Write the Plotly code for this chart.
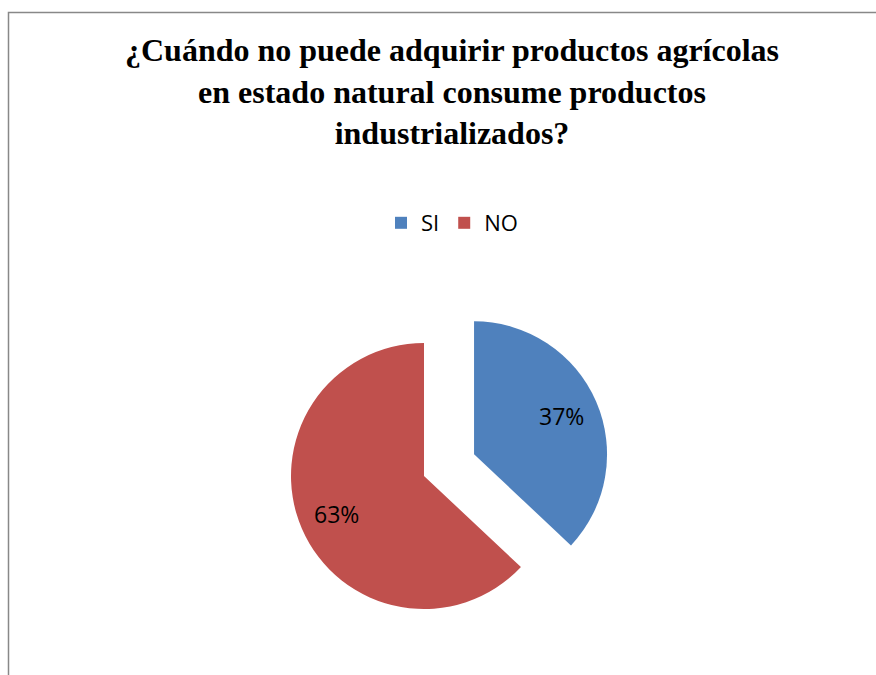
import math
import plotly.graph_objects as go

labels = ["SI", "NO"]
values = [37, 63]
colors = ["#4F81BD", "#C0504D"]
pulls = [0.41, 0]
title_text = "¿Cuándo no puede adquirir productos agrícolas<br>en estado natural consume productos<br>industrializados?"

W, H = 876, 675
cx, cy, r = 424, 476, 133
half = r * (1 + max(pulls))
label_frac = 0.72

fig = go.Figure(go.Pie(
    labels=labels,
    values=values,
    marker=dict(colors=colors),
    pull=pulls,
    sort=False,
    direction="clockwise",
    rotation=0,
    textinfo="none",
    domain=dict(x=[(cx - half) / W, (cx + half) / W],
                y=[1 - (cy + half) / H, 1 - (cy - half) / H]),
    hoverinfo="label+percent",
))

# percentage labels placed along each slice's mid-angle (Excel "best fit" style)
total = sum(values)
annotations = []
start = 0.0
for v, p in zip(values, pulls):
    frac = v / total
    mid = (start + frac / 2) * 2 * math.pi
    dist = r * (label_frac + p)
    x = cx + dist * math.sin(mid)
    y = cy - dist * math.cos(mid)
    annotations.append(dict(
        x=x / W, y=1 - y / H, xref="paper", yref="paper", showarrow=False,
        text=f"{round(frac * 100)}%",
        font=dict(family="Open Sans, Liberation Sans, sans-serif", size=23, color="black"),
        xanchor="center", yanchor="middle"))
    start += frac

fig.update_layout(
    width=W, height=H,
    margin=dict(l=0, r=0, t=0, b=0),
    paper_bgcolor="white",
    title=dict(text="<b>" + title_text + "</b>", x=452 / W, xanchor="center",
               y=1 - 61 / H, yanchor="top",
               font=dict(family="Liberation Serif, Times New Roman, serif", size=32, color="black")),
    legend=dict(orientation="h", x=452 / W, xanchor="center", y=1 - 223 / H, yanchor="middle",
                font=dict(family="Open Sans, Liberation Sans, sans-serif", size=22, color="black"),
                itemwidth=30, traceorder="normal"),
    annotations=annotations,
    shapes=[dict(type="rect", xref="paper", yref="paper",
                 x0=8.5 / W, x1=1.2, y0=-0.2, y1=1 - 12.5 / H,
                 line=dict(color="#888888", width=1.5), fillcolor="rgba(0,0,0,0)")],
)

fig.write_html("out.html")
